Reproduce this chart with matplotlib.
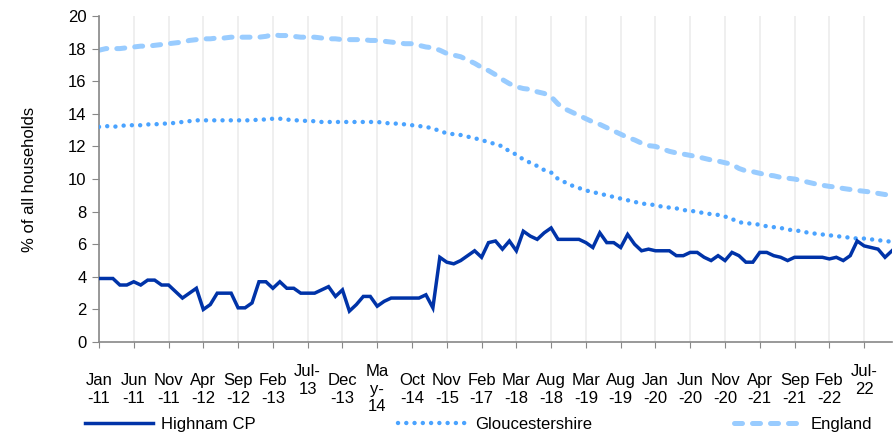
import matplotlib
matplotlib.use("Agg")
import matplotlib.pyplot as plt
import numpy as np

plt.rcParams['font.family'] = ['Liberation Sans', 'DejaVu Sans']

# x tick labels, one every 5 data points (wrapped the way excel wrapped them)
tick_labels = ["Jan\n-11", "Jun\n-11", "Nov\n-11", "Apr\n-12", "Sep\n-12", "Feb\n-13",
               "Jul-\n13\n ", "Dec\n-13", "Ma\ny-\n14", "Oct\n-14", "Nov\n-15", "Feb\n-17",
               "Mar\n-18", "Aug\n-18", "Mar\n-19", "Aug\n-19", "Jan\n-20", "Jun\n-20",
               "Nov\n-20", "Apr\n-21", "Sep\n-21", "Feb\n-22", "Jul-\n22\n "]

highnam = [3.9, 3.9, 3.9, 3.5, 3.5, 3.7, 3.5, 3.8, 3.8, 3.5,
           3.5, 3.1, 2.7, 3.0, 3.3, 2.0, 2.3, 3.0, 3.0, 3.0,
           2.1, 2.1, 2.4, 3.7, 3.7, 3.3, 3.7, 3.3, 3.3, 3.0,
           3.0, 3.0, 3.2, 3.4, 2.8, 3.2, 1.9, 2.3, 2.8, 2.8,
           2.2, 2.5, 2.7, 2.7, 2.7, 2.7, 2.7, 2.9, 2.1, 5.2,
           4.9, 4.8, 5.0, 5.3, 5.6, 5.2, 6.1, 6.2, 5.7, 6.2,
           5.6, 6.8, 6.5, 6.3, 6.7, 7.0, 6.3, 6.3, 6.3, 6.3,
           6.1, 5.8, 6.7, 6.1, 6.1, 5.8, 6.6, 6.0, 5.6, 5.7,
           5.6, 5.6, 5.6, 5.3, 5.3, 5.5, 5.5, 5.2, 5.0, 5.3,
           5.0, 5.5, 5.3, 4.9, 4.9, 5.5, 5.5, 5.3, 5.2, 5.0,
           5.2, 5.2, 5.2, 5.2, 5.2, 5.1, 5.2, 5.0, 5.3, 6.2,
           5.9, 5.8, 5.7, 5.2, 5.6]

glos = [13.2, 13.25, 13.2, 13.25, 13.3, 13.3, 13.3, 13.35, 13.35, 13.4,
        13.4, 13.45, 13.5, 13.55, 13.6, 13.6, 13.6, 13.6, 13.6, 13.6,
        13.6, 13.6, 13.6, 13.65, 13.65, 13.7, 13.7, 13.65, 13.6, 13.6,
        13.55, 13.55, 13.5, 13.5, 13.5, 13.5, 13.5, 13.5, 13.5, 13.5,
        13.5, 13.45, 13.4, 13.4, 13.35, 13.3, 13.25, 13.2, 13.1, 12.95,
        12.8, 12.75, 12.7, 12.6, 12.5, 12.4, 12.25, 12.15, 12.0, 11.7,
        11.5, 11.2, 11.0, 10.8, 10.55, 10.4, 10.0, 9.8, 9.6, 9.45,
        9.3, 9.2, 9.1, 9.0, 8.9, 8.8, 8.7, 8.6, 8.5, 8.45,
        8.4, 8.3, 8.25, 8.2, 8.1, 8.05, 8.0, 7.9, 7.85, 7.8,
        7.7, 7.55, 7.35, 7.3, 7.25, 7.2, 7.1, 7.05, 7.0, 6.9,
        6.85, 6.8, 6.7, 6.65, 6.6, 6.55, 6.5, 6.45, 6.4, 6.35,
        6.35, 6.3, 6.25, 6.2, 6.15]

england = [17.9, 18.0, 18.0, 18.0, 18.05, 18.1, 18.15, 18.15, 18.2, 18.25,
           18.3, 18.35, 18.4, 18.5, 18.55, 18.6, 18.6, 18.65, 18.65, 18.7,
           18.7, 18.7, 18.7, 18.7, 18.75, 18.85, 18.8, 18.8, 18.75, 18.7,
           18.7, 18.7, 18.65, 18.6, 18.6, 18.55, 18.55, 18.55, 18.55, 18.5,
           18.5, 18.45, 18.4, 18.35, 18.3, 18.3, 18.2, 18.1, 18.05, 17.9,
           17.7, 17.6, 17.5, 17.3, 17.1, 16.85, 16.65, 16.4, 16.1, 15.85,
           15.66, 15.55, 15.5, 15.35, 15.25, 15.05, 14.6, 14.3, 14.1, 13.9,
           13.7, 13.5, 13.35, 13.15, 12.95, 12.75, 12.55, 12.4, 12.2, 12.05,
           12.0, 11.85, 11.7, 11.6, 11.53, 11.45, 11.37, 11.27, 11.17, 11.1,
           11.0, 10.9, 10.65, 10.5, 10.45, 10.35, 10.25, 10.2, 10.1, 10.05,
           10.0, 9.9, 9.8, 9.7, 9.62, 9.55, 9.5, 9.42, 9.36, 9.3,
           9.25, 9.2, 9.12, 9.05, 9.0]

x = np.arange(len(highnam))

fig = plt.figure(figsize=(8.95, 4.38), dpi=100)
ax = fig.add_axes([0.1106, 0.219, 0.886, 0.7445])

ax.plot(x, highnam, color='#0033a8', lw=2.5, solid_joinstyle='miter', label='Highnam CP', zorder=4)
ax.plot(x, glos, color='#4aa3ff', lw=3.2, linestyle=(0, (0.01, 1.85)),
        dash_capstyle='round', label='Gloucestershire', zorder=3)
ax.plot(x, england, color='#99ccff', lw=3.6, linestyle=(0, (1.6, 2.0)),
        dash_capstyle='round', label='England', zorder=2)

ax.set_xlim(0, len(highnam) - 1)
ax.set_ylim(0, 20)
ax.set_yticks(range(0, 21, 2))
ax.tick_params(axis='y', labelsize=12, length=5, color='#888888', pad=4)

ticks = list(range(0, len(highnam), 5))
ax.set_xticks(ticks)
ax.set_xticklabels(tick_labels, fontsize=12, va='center', linespacing=1.2)
ax.tick_params(axis='x', length=4, color='#888888', pad=30)
ax.grid(axis='x', color='#ececec', lw=1.2)
ax.set_axisbelow(True)

for s in ['top', 'right']:
    ax.spines[s].set_visible(False)
ax.spines['left'].set_color('#888888')
ax.spines['bottom'].set_color('#888888')
ax.spines['left'].set_linewidth(1.2)
ax.spines['bottom'].set_linewidth(1.2)

ax.set_ylabel('% of all households', fontsize=12, labelpad=22)

fig.legend(loc='lower left', ncol=3, mode='expand', frameon=False,
           bbox_to_anchor=(0.087, -0.002, 0.895, 0.07), fontsize=12,
           handlelength=4.1, handletextpad=0.5, borderaxespad=0)

fig.savefig('out.png', dpi=100)
